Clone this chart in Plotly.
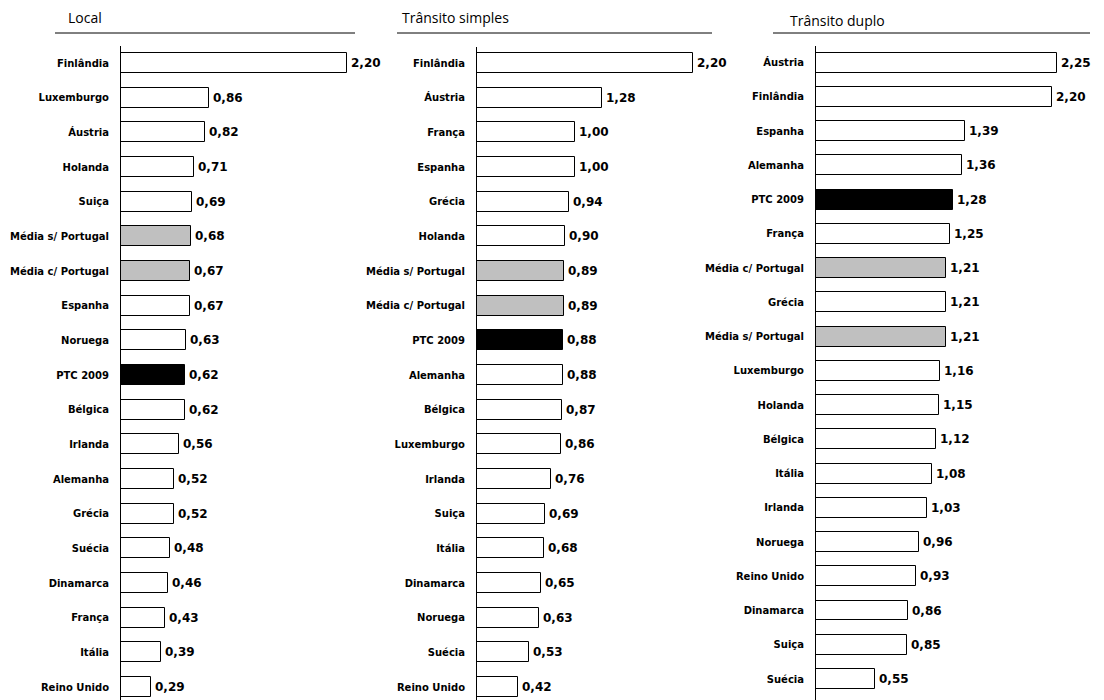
import plotly.graph_objects as go

W, H = 1104, 700

# ---------------- data ----------------
local_labels = ["Finlândia", "Luxemburgo", "Áustria", "Holanda", "Suiça",
                "Média s/ Portugal", "Média c/ Portugal", "Espanha", "Noruega",
                "PTC 2009", "Bélgica", "Irlanda", "Alemanha", "Grécia", "Suécia",
                "Dinamarca", "França", "Itália", "Reino Unido"]
local_values = [2.20, 0.86, 0.82, 0.71, 0.69, 0.68, 0.67, 0.67, 0.63, 0.62,
                0.62, 0.56, 0.52, 0.52, 0.48, 0.46, 0.43, 0.39, 0.29]

simples_labels = ["Finlândia", "Áustria", "França", "Espanha", "Grécia", "Holanda",
                  "Média s/ Portugal", "Média c/ Portugal", "PTC 2009", "Alemanha",
                  "Bélgica", "Luxemburgo", "Irlanda", "Suiça", "Itália",
                  "Dinamarca", "Noruega", "Suécia", "Reino Unido"]
simples_values = [2.20, 1.28, 1.00, 1.00, 0.94, 0.90, 0.89, 0.89, 0.88, 0.88,
                  0.87, 0.86, 0.76, 0.69, 0.68, 0.65, 0.63, 0.53, 0.42]

duplo_labels = ["Áustria", "Finlândia", "Espanha", "Alemanha", "PTC 2009", "França",
                "Média c/ Portugal", "Grécia", "Média s/ Portugal", "Luxemburgo",
                "Holanda", "Bélgica", "Itália", "Irlanda", "Noruega",
                "Reino Unido", "Dinamarca", "Suiça", "Suécia"]
duplo_values = [2.25, 2.20, 1.39, 1.36, 1.28, 1.25, 1.21, 1.21, 1.21, 1.16,
                1.15, 1.12, 1.08, 1.03, 0.96, 0.93, 0.86, 0.85, 0.55]

titles = ["Local", "Trânsito simples", "Trânsito duplo"]

# ---------------- layout geometry (pixels) ----------------
panels = [
    dict(ax=121, w=250, scale=102.8, c0=63, c1=687, top=46, bot=700, tx=66, ty=18, u0=55, u1=355, uy=33),
    dict(ax=477, w=240, scale=98.0, c0=63, c1=687, top=47, bot=700, tx=400, ty=18, u0=397, u1=712, uy=33),
    dict(ax=816, w=280, scale=107.3, c0=62.7, c1=679, top=46, bot=700, tx=788, ty=20, u0=773, u1=1090, uy=33),
]

data = [(local_labels, local_values), (simples_labels, simples_values), (duplo_labels, duplo_values)]


def bar_color(lbl):
    if lbl.startswith("Média"):
        return "#c0c0c0"
    if lbl.startswith("PTC"):
        return "#000000"
    return "#ffffff"


def fmt(v):
    return f"{v:.2f}".replace(".", ",")


fig = go.Figure()
annotations = []
shapes = []

for i, ((labels, values), p) in enumerate(zip(data, panels)):
    n = len(labels)
    idx = list(range(n))
    xa = "x" if i == 0 else f"x{i+1}"
    ya = "y" if i == 0 else f"y{i+1}"
    fig.add_trace(go.Bar(
        x=values, y=idx, orientation="h",
        marker=dict(color=[bar_color(l) for l in labels],
                    line=dict(color="#000000", width=1)),
        width=0.58, xaxis=xa, yaxis=ya, showlegend=False, hoverinfo="skip",
    ))
    for v, k in zip(values, idx):
        annotations.append(dict(
            x=v, y=k, xref=xa, yref=ya, text=fmt(v), showarrow=False,
            xanchor="left", yanchor="middle", xshift=2,
            font=dict(family="DejaVu Sans", size=12, color="#000000", weight="bold"),
        ))
    spacing = (p["c1"] - p["c0"]) / (n - 1)
    r_top = -(p["c0"] - p["top"]) / spacing
    r_bot = (n - 1) + (p["bot"] - p["c1"]) / spacing
    xkey = "xaxis" if i == 0 else f"xaxis{i+1}"
    ykey = "yaxis" if i == 0 else f"yaxis{i+1}"
    fig.update_layout(**{
        xkey: dict(domain=[p["ax"] / W, (p["ax"] + p["w"]) / W],
                   range=[0, p["w"] / p["scale"]], visible=False,
                   anchor=ya, fixedrange=True),
        ykey: dict(domain=[1 - p["bot"] / H, 1 - p["top"] / H],
                   range=[r_bot, r_top], anchor=xa,
                   tickmode="array", tickvals=idx, ticktext=labels,
                   tickfont=dict(family="DejaVu Sans", size=10, color="#000000", weight="bold"),
                   ticks="", ticklabelstandoff=9,
                   showline=True, linecolor="#000000", linewidth=1,
                   showgrid=False, zeroline=False, fixedrange=True),
    })
    annotations.append(dict(
        x=p["tx"] / W, y=1 - p["ty"] / H, xref="paper", yref="paper",
        text=titles[i], showarrow=False, xanchor="left", yanchor="middle",
        font=dict(family="Open Sans", size=14, color="#000000"),
    ))
    shapes.append(dict(
        type="line", xref="paper", yref="paper",
        x0=p["u0"] / W, x1=p["u1"] / W, y0=1 - p["uy"] / H, y1=1 - p["uy"] / H,
        line=dict(color="#000000", width=1),
    ))

fig.update_layout(
    width=W, height=H, margin=dict(l=0, r=0, t=0, b=0),
    paper_bgcolor="#ffffff", plot_bgcolor="#ffffff",
    annotations=annotations, shapes=shapes, bargap=0,
)

fig.write_html("out.html")
